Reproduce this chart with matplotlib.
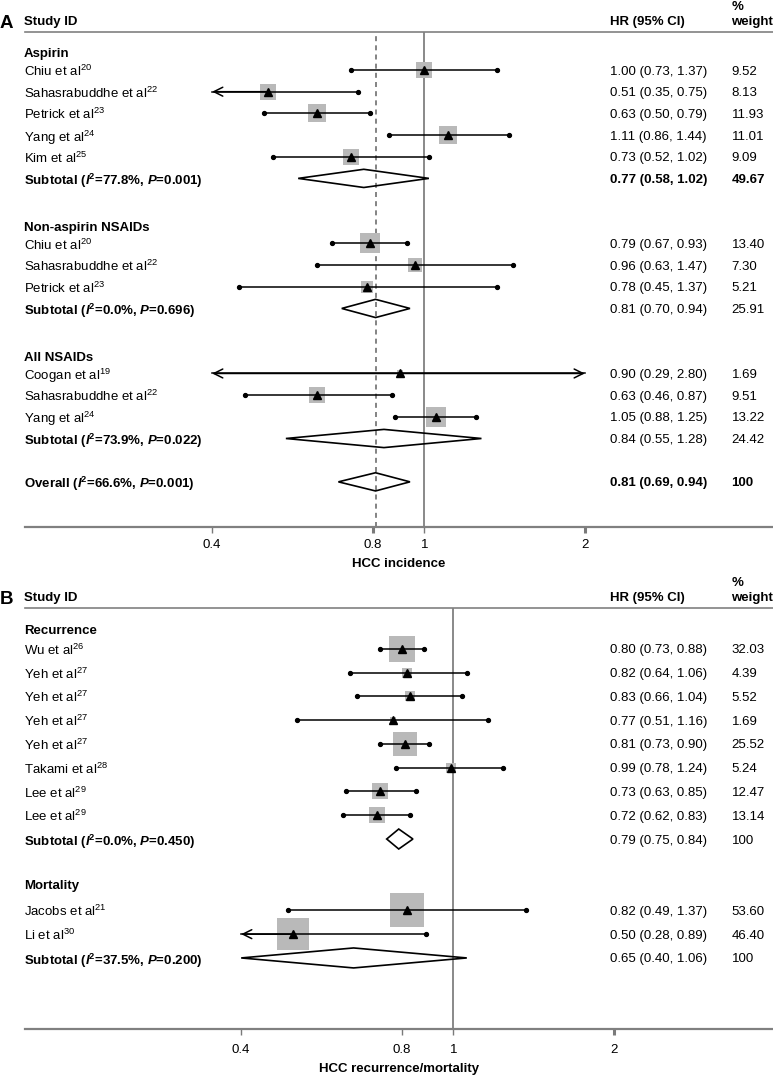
import numpy as np
import matplotlib
matplotlib.use('Agg')
from matplotlib import pyplot as plt
from matplotlib.patches import Polygon
from matplotlib.ticker import NullLocator
from matplotlib.transforms import blended_transform_factory

plt.rcParams['font.family'] = ['Liberation Sans', 'DejaVu Sans']
plt.rcParams['mathtext.fontset'] = 'custom'
plt.rcParams['mathtext.rm'] = 'Liberation Sans'
plt.rcParams['mathtext.it'] = 'Liberation Sans:italic'
plt.rcParams['mathtext.bf'] = 'Liberation Sans:bold'
plt.rcParams['mathtext.bfit'] = 'Liberation Sans:italic:bold'

# ---- panel A: HCC incidence
a_groups = ['Aspirin', 'Non-aspirin NSAIDs', 'All NSAIDs']
a_group = [0, 0, 0, 0, 0, 1, 1, 1, 2, 2, 2]
a_names = ['Chiu et al', 'Sahasrabuddhe et al', 'Petrick et al', 'Yang et al', 'Kim et al',
           'Chiu et al', 'Sahasrabuddhe et al', 'Petrick et al',
           'Coogan et al', 'Sahasrabuddhe et al', 'Yang et al']
a_refs = ['20', '22', '23', '24', '25', '20', '22', '23', '19', '22', '24']
a_hr = [1.00, 0.51, 0.63, 1.11, 0.73, 0.79, 0.96, 0.78, 0.90, 0.63, 1.05]
a_lo = [0.73, 0.35, 0.50, 0.86, 0.52, 0.67, 0.63, 0.45, 0.29, 0.46, 0.88]
a_hi = [1.37, 0.75, 0.79, 1.44, 1.02, 0.93, 1.47, 1.37, 2.80, 0.87, 1.25]
a_wt = [9.52, 8.13, 11.93, 11.01, 9.09, 13.40, 7.30, 5.21, 1.69, 9.51, 13.22]
a_sub_hr = [0.77, 0.81, 0.84]
a_sub_lo = [0.58, 0.70, 0.55]
a_sub_hi = [1.02, 0.94, 1.28]
a_sub_wt = [49.67, 25.91, 24.42]
a_sub_i2 = ['77.8', '0.0', '73.9']
a_sub_p = ['0.001', '0.696', '0.022']
a_sub_bold = [True, False, False]
a_ov_hr, a_ov_lo, a_ov_hi, a_ov_wt = 0.81, 0.69, 0.94, 100
a_ov_i2, a_ov_p = '66.6', '0.001'

# ---- panel B: HCC recurrence/mortality
b_groups = ['Recurrence', 'Mortality']
b_group = [0, 0, 0, 0, 0, 0, 0, 0, 1, 1]
b_names = ['Wu et al', 'Yeh et al', 'Yeh et al', 'Yeh et al', 'Yeh et al',
           'Takami et al', 'Lee et al', 'Lee et al', 'Jacobs et al', 'Li et al']
b_refs = ['26', '27', '27', '27', '27', '28', '29', '29', '21', '30']
b_hr = [0.80, 0.82, 0.83, 0.77, 0.81, 0.99, 0.73, 0.72, 0.82, 0.50]
b_lo = [0.73, 0.64, 0.66, 0.51, 0.73, 0.78, 0.63, 0.62, 0.49, 0.28]
b_hi = [0.88, 1.06, 1.04, 1.16, 0.90, 1.24, 0.85, 0.83, 1.37, 0.89]
b_wt = [32.03, 4.39, 5.52, 1.69, 25.52, 5.24, 12.47, 13.14, 53.60, 46.40]
b_sub_hr = [0.79, 0.65]
b_sub_lo = [0.75, 0.40]
b_sub_hi = [0.84, 1.06]
b_sub_wt = [100, 100]
b_sub_i2 = ['0.0', '37.5']
b_sub_p = ['0.450', '0.200']
b_sub_bold = [False, False]

W, H = 773, 1076
FS = 9.5
BOX_GRAY = '#b9b9b9'
LINE_GRAY = '#808080'
CLIP_LO, CLIP_HI = 0.4, 2.0
PX_PER_LN = 231.5
X_LABEL, X_HR, X_WT = 24 / W, 610 / W, 731.5 / W

fig = plt.figure(figsize=(W / 100, H / 100), dpi=100)


def fy(py):
    return 1 - py / H


def fmt_w(w):
    return '100' if w == 100 else '%.2f' % w


def sub_label(word, i2, p):
    return word + r' ($\mathbfit{I}^{\mathbf{2}}$=' + i2 + r'%, $\mathbfit{P}$=' + p + ')'


def make_axes(top_px, bot_px, one_px, ylim, xlabel, pad, lpad, thick):
    ax = fig.add_axes([25 / W, fy(bot_px), (W - 25) / W, (bot_px - top_px) / H])
    ax.set_xscale('log')
    ax.set_xlim(np.exp((25 - one_px) / PX_PER_LN), np.exp((W - one_px) / PX_PER_LN))
    ax.set_ylim(*ylim)
    for s in ('left', 'right'):
        ax.spines[s].set_visible(False)
    ax.spines['top'].set_color(LINE_GRAY)
    ax.spines['top'].set_linewidth(1.2)
    ax.spines['bottom'].set_color(LINE_GRAY)
    ax.spines['bottom'].set_linewidth(1.6)
    ax.set_yticks([])
    ax.xaxis.set_minor_locator(NullLocator())
    ax.set_xticks([0.4, 0.8, 1, 2])
    ax.set_xticklabels(['0.4', '0.8', '1', '2'])
    ax.tick_params(axis='x', length=4.5, width=1.0, color='#7a7a7a', pad=pad, labelsize=FS)
    for i in thick:
        t = ax.xaxis.get_major_ticks()[i]
        t.tick1line.set_markeredgewidth(2.2)
        t.tick1line.set_color('#333333')
    ax.set_xlabel(xlabel, fontsize=FS, fontweight='bold', labelpad=lpad)
    ax.axvline(1, color=LINE_GRAY, lw=1.3, zorder=1)
    return ax


def draw_study(ax, y, hr, lo, hi, wt, k):
    ax.scatter([hr], [y], s=k * wt, marker='s', color=BOX_GRAY, linewidths=0, zorder=2)
    lo_c, hi_c = max(lo, CLIP_LO), min(hi, CLIP_HI)
    ax.plot([lo_c, hi_c], [y, y], color='k', lw=1.1, zorder=3)
    for c, clipped in ((lo_c, lo < CLIP_LO), (hi_c, hi > CLIP_HI)):
        if clipped:
            ax.annotate('', xy=(c, y), xytext=(hr, y), zorder=3,
                        arrowprops=dict(arrowstyle='->', color='k', lw=1.1,
                                        shrinkA=0, shrinkB=0, mutation_scale=16))
        else:
            ax.plot([c], [y], 'o', color='k', ms=2.8, zorder=3)
    ax.plot([hr], [y], '^', color='k', ms=5.5, zorder=4)


def draw_diamond(ax, y, hr, lo, hi):
    h = 0.42
    ax.add_patch(Polygon([(lo, y), (hr, y - h), (hi, y), (hr, y + h)], closed=True,
                         fc='none', ec='k', lw=1.2, zorder=3))


def draw_panel(ax, groups, group, names, refs, hr, lo, hi, wt,
               s_hr, s_lo, s_hi, s_wt, s_i2, s_p, s_bold, hdr_off, k):
    tr = blended_transform_factory(fig.transFigure, ax.transData)
    r = 1
    idx = 0
    sub_rows = []
    for g, gname in enumerate(groups):
        ax.text(X_LABEL, r - hdr_off[g], gname, transform=tr, fontsize=FS,
                fontweight='bold', va='center_baseline')
        n = group.count(g)
        for j in range(n):
            y = r + j
            ax.text(X_LABEL, y, names[idx] + '$^{' + refs[idx] + '}$', transform=tr,
                    fontsize=FS, va='center_baseline')
            draw_study(ax, y, hr[idx], lo[idx], hi[idx], wt[idx], k)
            ax.text(X_HR, y, '%.2f (%.2f, %.2f)' % (hr[idx], lo[idx], hi[idx]),
                    transform=tr, fontsize=FS, va='center_baseline')
            ax.text(X_WT, y, fmt_w(wt[idx]), transform=tr, fontsize=FS,
                    va='center_baseline')
            idx += 1
        y = r + n
        sub_rows.append(y)
        ax.text(X_LABEL, y, sub_label('Subtotal', s_i2[g], s_p[g]), transform=tr,
                fontsize=FS, fontweight='bold', va='center_baseline')
        draw_diamond(ax, y, s_hr[g], s_lo[g], s_hi[g])
        fw = 'bold' if s_bold[g] else 'normal'
        ax.text(X_HR, y, '%.2f (%.2f, %.2f)' % (s_hr[g], s_lo[g], s_hi[g]),
                transform=tr, fontsize=FS, fontweight=fw, va='center_baseline')
        ax.text(X_WT, y, fmt_w(s_wt[g]), transform=tr, fontsize=FS, fontweight=fw,
                va='center_baseline')
        r += n + 3
    return tr, sub_rows


def headers(letter, py_main, py_pct):
    fig.text(0, fy(py_main), letter, fontsize=13.5, fontweight='bold', va='center_baseline')
    fig.text(X_LABEL, fy(py_main), 'Study ID', fontsize=FS, fontweight='bold', va='center_baseline')
    fig.text(X_HR, fy(py_main), 'HR (95% CI)', fontsize=FS, fontweight='bold', va='center_baseline')
    fig.text(X_WT, fy(py_main), 'weight', fontsize=FS, fontweight='bold', va='center_baseline')
    fig.text(X_WT, fy(py_pct), '%', fontsize=FS, fontweight='bold', va='center_baseline')


# panel A
axA = make_axes(32.3, 526.5, 424.3, (22.06, -0.74), 'HCC incidence', 4.5, 5, [1, 3])
axA.axvline(a_ov_hr, color='#6e6e6e', lw=1.2, ls=(0, (3, 2.5)), zorder=1)
trA, subA = draw_panel(axA, a_groups, a_group, a_names, a_refs, a_hr, a_lo, a_hi, a_wt,
                       a_sub_hr, a_sub_lo, a_sub_hi, a_sub_wt, a_sub_i2, a_sub_p,
                       a_sub_bold, [0.8, 0.8, 0.8], 14.6)
y_ov = subA[-1] + 2
axA.text(X_LABEL, y_ov, sub_label('Overall', a_ov_i2, a_ov_p), transform=trA,
         fontsize=FS, fontweight='bold', va='center_baseline')
draw_diamond(axA, y_ov, a_ov_hr, a_ov_lo, a_ov_hi)
axA.text(X_HR, y_ov, '%.2f (%.2f, %.2f)' % (a_ov_hr, a_ov_lo, a_ov_hi), transform=trA,
         fontsize=FS, fontweight='bold', va='center_baseline')
axA.text(X_WT, y_ov, fmt_w(a_ov_wt), transform=trA, fontsize=FS, fontweight='bold',
         va='center_baseline')
headers('A', 21, 6)

# panel B
axB = make_axes(608.3, 1029.3, 453.3, (17.0, -0.70), 'HCC recurrence/mortality', 6, 5, [3])
draw_panel(axB, b_groups, b_group, b_names, b_refs, b_hr, b_lo, b_hi, b_wt,
           b_sub_hr, b_sub_lo, b_sub_hi, b_sub_wt, b_sub_i2, b_sub_p,
           b_sub_bold, [0.8, 1.1], 11.2)
headers('B', 597, 581.7)

fig.savefig('out.png', dpi=100)
